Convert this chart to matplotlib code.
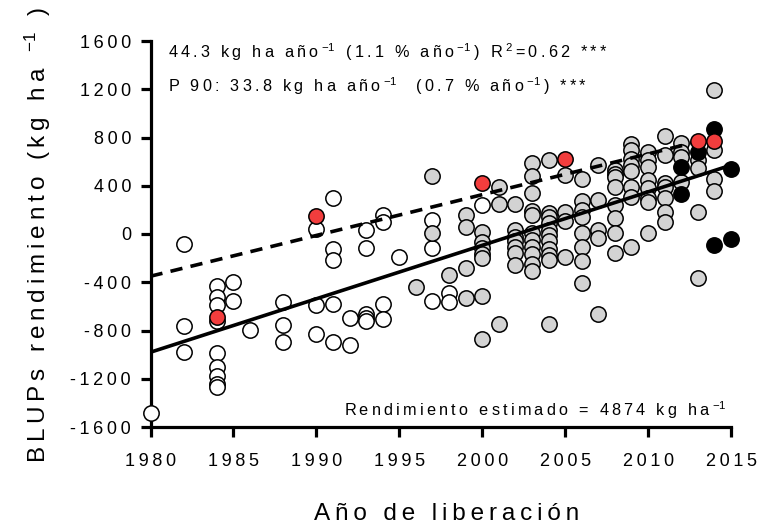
import matplotlib
matplotlib.use("Agg")
import matplotlib.pyplot as plt
import numpy as np

plt.rcParams['font.family'] = ['Liberation Sans', 'DejaVu Sans']
plt.rcParams['mathtext.fontset'] = 'custom'
plt.rcParams['mathtext.rm'] = 'Liberation Sans'
plt.rcParams['mathtext.it'] = 'Liberation Sans'
plt.rcParams['mathtext.bf'] = 'Liberation Sans'

# ---------------- data ----------------
white_years = [1980,
               1982, 1982, 1982,
               1984, 1984, 1984, 1984, 1984, 1984, 1984, 1984, 1984,
               1985, 1985,
               1986,
               1988, 1988, 1988,
               1990, 1990, 1990,
               1991, 1991, 1991, 1991, 1991,
               1992, 1992,
               1993, 1993, 1993, 1993, 1993,
               1994, 1994, 1994, 1994,
               1995,
               1997, 1997, 1997,
               1998, 1998,
               2000]
white_vals = [-1485,
              -80, -760, -980,
              -435, -520, -590, -725, -990, -1105, -1180, -1245, -1270,
              -395, -552,
              -795,
              -566, -754, -897,
              41, -588, -828,
              296, -124, -215, -580, -897,
              -699, -920,
              33, -119, -665, -700, -720,
              157, 102, -580, -707,
              -193,
              116, -119, -556,
              -492, -561,
              240]

gray_years = ([1996] + [1997] * 2 + [1998] + [1999] * 4 + [2000] * 7 + [2001] * 3 +
              [2002] * 7 + [2003] * 11 + [2004] * 11 + [2005] * 4 + [2006] * 8 +
              [2007] * 5 + [2008] * 8 + [2009] * 8 + [2010] * 8 + [2011] * 7 +
              [2012] * 4 + [2013] * 4 + [2014] * 4)
gray_vals = [-436,
             478, 6,
             -340,
             157, 55, -284, -528,
             19, -64, -119, -166, -201, -512, -868,
             387, 250, -743,
             245, 35, -22, -60, -105, -160, -255,
             590, 483, 340, 187, 155, 5, -50, -105, -165, -245, -310,
             616, 175, 140, 89, 33, -10, -60, -124, -174, -215, -743,
             489, 185, 110, -190,
             453, 270, 200, 144, 6, -110, -225, -405,
             568, 280, 36, -30, -664,
             530, 500, 470, 390, 240, 130, 6, -155,
             745, 700, 620, 570, 520, 392, 309, -105,
             682, 613, 555, 450, 379, 300, 268, 6,
             815, 654, 420, 392, 296, 185, 102,
             751, 682, 640, 430,
             613, 545, 185, -365,
             1193, 700, 458, 355]

black_years = [2012, 2012, 2013, 2014, 2014, 2015, 2015]
black_vals = [558, 330, 680, 867, -92, 536, -44]

red_years = [1984, 1990, 2000, 2005, 2013, 2014]
red_vals = [-688, 152, 422, 625, 768, 768]

fit_slope = 44.3
fit_at_1980 = -980
fit_years = [1980, 2015]
p90_slope = 33.8
p90_at_1980 = -350
p90_years = [1980, 2014]

xtick_vals = [1980, 1985, 1990, 1995, 2000, 2005, 2010, 2015]
ytick_vals = [-1600, -1200, -800, -400, 0, 400, 800, 1200, 1600]

THIN = '\u2009'


def spaced(s, sp=THIN):
    parts = s.split('$')
    tokens = []
    for i, p in enumerate(parts):
        if i % 2 == 0:
            tokens.extend(list(p))
        else:
            tokens.append('$' + p + '$')
    return sp.join(tokens)


# ---------------- figure ----------------
W, H = 760, 526
fig = plt.figure(figsize=(W / 100, H / 100), dpi=100)
ax = fig.add_axes([150.5 / W, 1 - 427 / H, (731 - 150.5) / W, (427 - 41) / H])
ax.set_xlim(1980, 2015)
ax.set_ylim(-1600, 1600)

msize = 122
elw = 1.1
ax.scatter(white_years, white_vals, s=msize, facecolor='white', edgecolor='black',
           linewidth=elw, zorder=3, clip_on=False)
ax.scatter(gray_years, gray_vals, s=msize, facecolor='#d3d3d3', edgecolor='black',
           linewidth=elw, zorder=3, clip_on=False)
ax.scatter(black_years, black_vals, s=msize, facecolor='black', edgecolor='black',
           linewidth=elw, zorder=4, clip_on=False)

fx = np.array(fit_years, dtype=float)
ax.plot(fx, fit_at_1980 + fit_slope * (fx - 1980), color='black', lw=2.6,
        solid_capstyle='butt', zorder=5, clip_on=False)
px = np.array(p90_years, dtype=float)
ax.plot(px, p90_at_1980 + p90_slope * (px - 1980), color='black', lw=2.6,
        dashes=(3.4, 2.3), dash_capstyle='butt', zorder=5, clip_on=False)

ax.scatter(red_years, red_vals, s=msize, facecolor='#f23d3d', edgecolor='black',
           linewidth=elw, zorder=6, clip_on=False)

for side in ['top', 'right']:
    ax.spines[side].set_visible(False)
for side in ['left', 'bottom']:
    ax.spines[side].set_linewidth(2.3)
ax.tick_params(axis='both', direction='out', length=7, width=2.3, labelsize=13)
ax.tick_params(axis='x', pad=12)
ax.tick_params(axis='y', pad=7)
ax.set_xticks(xtick_vals)
ax.set_xticklabels([spaced(str(v)) for v in xtick_vals])
ax.set_yticks(ytick_vals)
ax.set_yticklabels([spaced(str(v)) for v in ytick_vals])

ann_fs = 11.7
fig.text(168 / W, 1 - 52 / H,
         spaced('44.3 kg ha año$^{-1}$ (1.1 % año$^{-1}$) R$^{2}$=0.62 ***'),
         fontsize=ann_fs, ha='left', va='center')
fig.text(168 / W, 1 - 86 / H,
         spaced('P 90: 33.8 kg ha año$^{-1}$  (0.7 % año$^{-1}$) ***'),
         fontsize=ann_fs, ha='left', va='center')
fig.text(727 / W, 1 - 410 / H,
         spaced('Rendimiento estimado = 4874 kg ha$^{-1}$'),
         fontsize=ann_fs, ha='right', va='center')

fig.text(447 / W, 1 - 514 / H, spaced('Año de liberación'), fontsize=17.5,
         ha='center', va='center')
fig.text(38 / W, 1 - 235 / H, spaced('BLUPs rendimiento (kg ha $^{-1}$ )'),
         fontsize=17.5, ha='center', va='center', rotation=90)

fig.savefig('out.png', dpi=100)
